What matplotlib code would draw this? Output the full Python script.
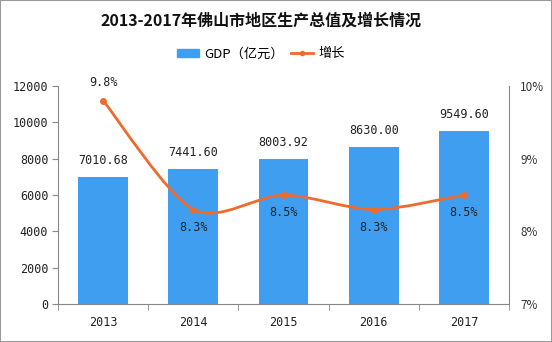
import numpy as np
import matplotlib
matplotlib.use('Agg')
import matplotlib.pyplot as plt
from matplotlib.path import Path
from matplotlib.patches import PathPatch, Rectangle, Patch
from matplotlib.lines import Line2D

plt.rcParams['font.family'] = ['Noto Sans CJK SC', 'DejaVu Sans']

# 数据
years = ['2013', '2014', '2015', '2016', '2017']
gdp = [7010.68, 7441.60, 8003.92, 8630.00, 9549.60]
growth = [9.8, 8.3, 8.5, 8.3, 8.5]
gdp_labels = ['7010.68', '7441.60', '8003.92', '8630.00', '9549.60']
growth_labels = ['9.8%', '8.3%', '8.5%', '8.3%', '8.5%']

bar_color = '#409ef0'
line_color = '#ee6b2d'
axis_color = '#888888'
num_font = ['DejaVu Sans Mono']

fig = plt.figure(figsize=(5.52, 3.42), dpi=100)
ax = fig.add_axes([58 / 552, 38 / 342, 451 / 552, 218 / 342])
ax2 = ax.twinx()

x = np.arange(len(years))
ax.bar(x, gdp, width=0.55, color=bar_color, zorder=2)
ax.set_xlim(-0.5, len(years) - 0.5)
ax.set_ylim(0, 12000)
ax.set_yticks(range(0, 12001, 2000))
ax.set_xticks(x)
ax.set_xticklabels(years, family=num_font)
ax.set_yticklabels([str(v) for v in range(0, 12001, 2000)], family=num_font)
ax.set_xticks(np.arange(-0.5, len(years), 1), minor=True)
ax.tick_params(axis='x', which='major', length=0, pad=9, labelsize=8.5, colors='#222222')
ax.tick_params(axis='x', which='minor', length=4, color=axis_color)
ax.tick_params(axis='y', length=4, color=axis_color, labelsize=8.5, labelcolor='#222222', pad=3)
for s in ['top', 'right']:
    ax.spines[s].set_visible(False)
for s in ['left', 'bottom']:
    ax.spines[s].set_color(axis_color)

for xi, v, lab in zip(x, gdp, gdp_labels):
    ax.annotate(lab, (xi, v), xytext=(0, 7), textcoords='offset points',
                ha='center', va='bottom', fontsize=8.5, color='#222222', family=num_font)

# 增长率 平滑曲线
ax2.set_ylim(7, 10)
ax2.set_yticks([7, 8, 9, 10])
ax2.set_yticklabels(['7%', '8%', '9%', '10%'])
ax2.tick_params(axis='y', length=0, labelsize=8.5, labelcolor='#333333', pad=8)
for s in ['top', 'left', 'bottom']:
    ax2.spines[s].set_visible(False)
ax2.spines['right'].set_color(axis_color)

pts = np.column_stack([x, growth]).astype(float)
verts = [pts[0]]
codes = [Path.MOVETO]
n = len(pts)
k = 1 / 7
for i in range(n - 1):
    p0 = pts[max(i - 1, 0)]
    p1 = pts[i]
    p2 = pts[i + 1]
    p3 = pts[min(i + 2, n - 1)]
    c1 = p1 + (p2 - p0) * k
    c2 = p2 - (p3 - p1) * k
    verts += [c1, c2, p2]
    codes += [Path.CURVE4] * 3
ax2.add_patch(PathPatch(Path(verts, codes), fill=False, edgecolor=line_color, lw=2, zorder=3))
ax2.plot(x, growth, 'o', color=line_color, ms=4, zorder=4)

for i, (xi, v, lab) in enumerate(zip(x, growth, growth_labels)):
    if i == 0:
        ax2.annotate(lab, (xi, v), xytext=(0, 8), textcoords='offset points',
                     ha='center', va='bottom', fontsize=8.5, color='#222222', family=num_font)
    else:
        ax2.annotate(lab, (xi, v), xytext=(0, -8), textcoords='offset points',
                     ha='center', va='top', fontsize=8.5, color='#222222', family=num_font)

fig.text(261 / 552, 1 - 21 / 342, '2013-2017年佛山市地区生产总值及增长情况',
         ha='center', va='center', fontsize=11.5, fontweight='bold', color='#111111')

handles = [Patch(color=bar_color),
           Line2D([0], [0], color=line_color, lw=2, marker='o', ms=3)]
fig.legend(handles, ['GDP（亿元）', '增长'], loc='center', ncol=2,
           bbox_to_anchor=(261 / 552, 1 - 54 / 342), frameon=False,
           fontsize=9.5, handlelength=1.7, handleheight=0.6, handletextpad=0.4,
           columnspacing=0.5)

fig.patches.append(Rectangle((0, 0), 1, 1, transform=fig.transFigure, fill=False,
                             edgecolor='#999999', lw=1.5))

fig.savefig('out.png', dpi=100)
